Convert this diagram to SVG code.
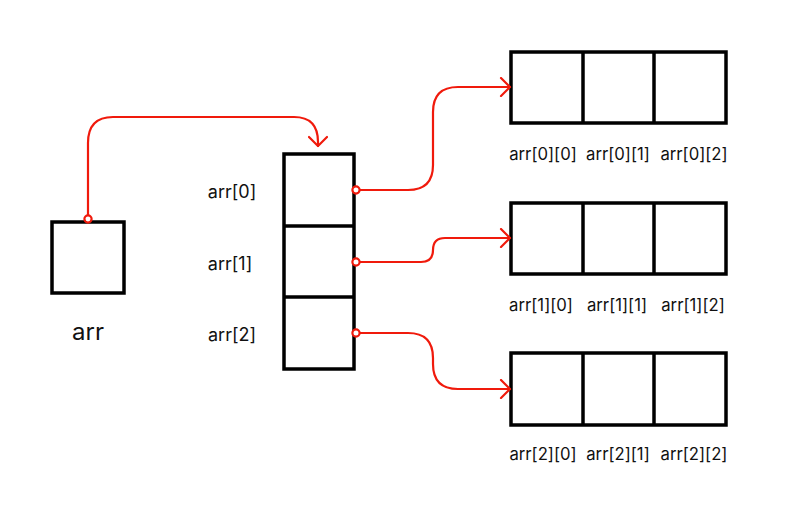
<svg xmlns="http://www.w3.org/2000/svg" width="800" height="526" viewBox="0 0 800 526">
<defs>
<style>
.box{fill:#fff;stroke:#000;stroke-width:3.5}
.div{stroke:#000;stroke-width:3.5;fill:none}
.lbl{font-family:Inter,"Noto Sans","DejaVu Sans",sans-serif;font-size:16.7px;fill:#111}
.col{font-family:Inter,"Noto Sans","DejaVu Sans",sans-serif;font-size:18px;fill:#111}
.big{font-family:Inter,"Noto Sans","DejaVu Sans",sans-serif;font-size:24px;fill:#111}
.edge{fill:none;stroke:#f01a0c;stroke-width:2.2;stroke-linecap:round;stroke-linejoin:round}
.dot{fill:#fff;stroke:#f01a0c;stroke-width:2.2}
</style>
<marker id="arrow" viewBox="-11 -10 13 20" markerWidth="13" markerHeight="20" refX="0" refY="0" orient="auto" markerUnits="userSpaceOnUse">
<path d="M-9,-9 L0,0 L-9,9" fill="none" stroke="#f01a0c" stroke-width="2.2" stroke-linecap="round" stroke-linejoin="round"/>
</marker>
</defs>
<rect width="800" height="526" fill="#fff"/>
<g id="node-arr">
<rect class="box" x="52" y="222" width="72" height="71"/>
<text class="big" x="88" y="340" text-anchor="middle">arr</text>
</g>
<g id="node-column">
<rect class="box" x="284" y="154" width="70" height="215"/>
<line class="div" x1="284" y1="226" x2="354" y2="226"/>
<line class="div" x1="284" y1="297" x2="354" y2="297"/>
<text class="col" x="232" y="198" text-anchor="middle">arr[0]</text>
<text class="col" x="230" y="270" text-anchor="middle">arr[1]</text>
<text class="col" x="232" y="341" text-anchor="middle">arr[2]</text>
</g>
<g id="node-row0">
<rect class="box" x="511" y="52" width="215" height="71"/>
<line class="div" x1="583" y1="52" x2="583" y2="123"/>
<line class="div" x1="654" y1="52" x2="654" y2="123"/>
<text class="lbl" x="543" y="160" text-anchor="middle">arr[0][0]</text>
<text class="lbl" x="618" y="160" text-anchor="middle">arr[0][1]</text>
<text class="lbl" x="694" y="160" text-anchor="middle">arr[0][2]</text>
</g>
<g id="node-row1">
<rect class="box" x="511" y="203" width="215" height="71"/>
<line class="div" x1="583" y1="203" x2="583" y2="274"/>
<line class="div" x1="654" y1="203" x2="654" y2="274"/>
<text class="lbl" x="541" y="311" text-anchor="middle">arr[1][0]</text>
<text class="lbl" x="617" y="311" text-anchor="middle">arr[1][1]</text>
<text class="lbl" x="693" y="311" text-anchor="middle">arr[1][2]</text>
</g>
<g id="node-row2">
<rect class="box" x="511" y="353" width="215" height="72"/>
<line class="div" x1="583" y1="353" x2="583" y2="425"/>
<line class="div" x1="654" y1="353" x2="654" y2="425"/>
<text class="lbl" x="543" y="460" text-anchor="middle">arr[2][0]</text>
<text class="lbl" x="618" y="460" text-anchor="middle">arr[2][1]</text>
<text class="lbl" x="694" y="460" text-anchor="middle">arr[2][2]</text>
</g>
<g id="connectors">
<path class="edge" d="M88,219 V143 Q88,117 113,117 H294 Q318,117 318,142 V146" marker-end="url(#arrow)"/>
<path class="edge" d="M356,190 H408 Q433,190 433,165 V112 Q433,87 458,87 H510" marker-end="url(#arrow)"/>
<path class="edge" d="M356,262 H421 Q433,262 433,250 Q433,238 445,238 H510" marker-end="url(#arrow)"/>
<path class="edge" d="M356,333 H408 Q433,333 433,358 V364 Q433,389 458,389 H510" marker-end="url(#arrow)"/>
<circle class="dot" cx="88" cy="219" r="3.6"/>
<circle class="dot" cx="356" cy="190" r="3.6"/>
<circle class="dot" cx="356" cy="262" r="3.6"/>
<circle class="dot" cx="356" cy="333" r="3.6"/>
</g>
</svg>
